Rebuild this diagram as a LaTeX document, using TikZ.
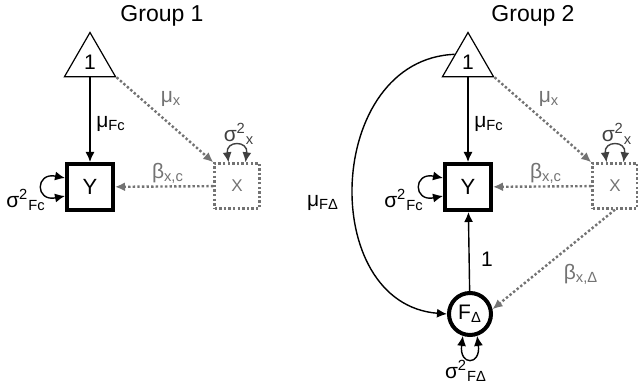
\documentclass[tikz,border=0pt]{standalone}
\usepackage{fontspec}
\setmainfont{Liberation Sans}
\usetikzlibrary{arrows.meta,shapes.geometric,positioning}
\definecolor{gris}{gray}{0.45}
\definecolor{grisosc}{gray}{0.25}
\tikzset{
  caja/.style={draw,line width=2pt,minimum size=23pt,inner sep=0pt,font=\fontsize{11}{13}\selectfont},
  cajax/.style={draw=gris,line width=1.2pt,dash pattern=on 1.2pt off 1.1pt,minimum size=22.5pt,inner sep=0pt,text=gris,font=\fontsize{8.5}{10}\selectfont},
  latente/.style={circle,draw,line width=2pt,minimum size=21pt,inner sep=0pt,font=\fontsize{10.5}{12}\selectfont},
  uno/.style={regular polygon,regular polygon sides=3,draw,line width=0.6pt,minimum size=29.5pt,inner sep=0pt,font=\fontsize{10.5}{12}\selectfont},
  flecha/.style={-{Latex[length=5pt,width=4.5pt]},line width=0.7pt},
  punteada/.style={-{Latex[length=5pt,width=4.5pt]},gris,line width=1.2pt,dash pattern=on 1.2pt off 1.1pt},
  var/.style={{Latex[length=5pt,width=4.5pt]}-{Latex[length=5pt,width=4.5pt]},line width=0.7pt},
  etq/.style={font=\fontsize{10.5}{12}\selectfont,inner sep=0pt}
}

\begin{document}
\begin{tikzpicture}[x=0.5pt,y=-0.5pt]
\useasboundingbox (0,0) rectangle (638,385);
% lo comun a los dos grupos
\foreach \g/\dx/\tx in {1/0/162,2/378/533}{
  \node[etq,font=\fontsize{11.5}{13}\selectfont] (titulo\g) at (\tx,16) {Group \g};
  \node[uno] (t\g) at (90+\dx,62) {1};
  \node[caja] (y\g) at (90+\dx,187) {Y};
  \node[cajax] (x\g) at (237+\dx,186) {X};
  \draw[flecha] (t\g) -- (y\g);
  \draw[punteada] (t\g.corner 3) -- (x\g.north west);
  \draw[punteada] (x\g) -- (y\g);
  \draw[var] ([yshift=4.5pt]y\g.west) .. controls +(-30,-6) and +(-30,6) .. ([yshift=-4.5pt]y\g.west);
  \draw[var,grisosc] ([xshift=-4.25pt]x\g.north) .. controls +(-3,-22) and +(3,-22) .. ([xshift=4.25pt]x\g.north);
  \node[etq] (mfc\g) at (111+\dx,124) {μ\textsubscript{Fc}};
  \node[etq,text=gris] (mx\g) at (171+\dx,99) {μ\textsubscript{x}};
  \node[etq,text=grisosc] (sx\g) at (239+\dx,134) {σ\textsuperscript{2}\textsubscript{x}};
  \node[etq,text=gris] (bxc\g) at (168+\dx,173) {β\textsubscript{x,c}};
  \node[etq] (sfc\g) at (26+\dx,200) {σ\textsuperscript{2}\textsubscript{Fc}};
}
% solo el grupo 2
\node[latente] (f) at (470,314) {F\textsubscript{Δ}};
\draw[flecha] (f) -- (y2);
\draw[punteada] (x2.south) -- (f.12);
\draw[flecha] (t2.150) .. controls +(-130,5) and +(-130,-10) .. (f.west);
\draw[var] (f.252) .. controls +(-4,30) and +(4,30) .. (f.288);
\node[etq] (unof) at (487,259) {1};
\node[etq,text=gris] (bxd) at (581,274) {β\textsubscript{x,Δ}};
\node[etq] (mfd) at (323,203) {μ\textsubscript{FΔ}};
\node[etq] (sfd) at (466,371) {σ\textsuperscript{2}\textsubscript{FΔ}};
\end{tikzpicture}
\end{document}
